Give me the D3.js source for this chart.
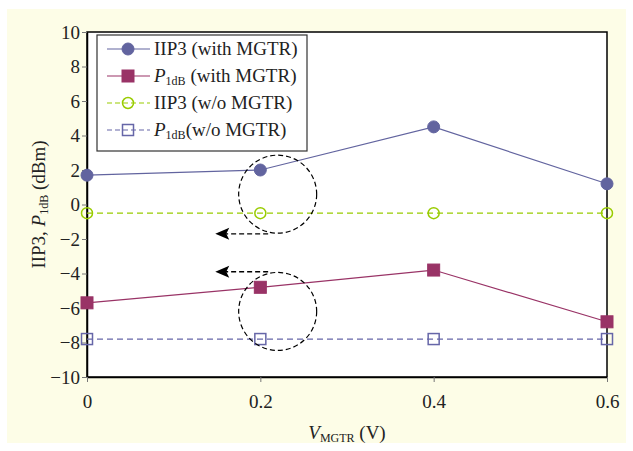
<!DOCTYPE html>
<html>
<head>
<meta charset="utf-8">
<script src="https://cdn.jsdelivr.net/npm/d3@7"></script>
<style>
body { margin: 0; background: #fff; }
text { font-family: "Liberation Serif", "Times New Roman", serif; }
</style>
</head>
<body>
<script>
const vgtr = [0, 0.2, 0.4, 0.6];
const iip3With = [1.7, 2.0, 4.5, 1.2];
const p1dbWith = [-5.7, -4.8, -3.8, -6.8];
const iip3Without = [-0.5, -0.5, -0.5, -0.5];
const p1dbWithout = [-7.8, -7.8, -7.8, -7.8];
const xTicks = [0, 0.2, 0.4, 0.6];
const yTicks = [-10, -8, -6, -4, -2, 0, 2, 4, 6, 8, 10];

const w = 633, h = 451;
const m = {left: 87, right: 26, top: 32, bottom: 74};
const fs = 19;

const svg = d3.select('body').append('svg')
  .attr('width', w).attr('height', h);

svg.append('rect').attr('x', 7).attr('y', 9).attr('width', 619).attr('height', 434)
  .attr('fill', '#fdfde7');

const x = d3.scaleLinear().domain([0, 0.6]).range([m.left, w - m.right]);
const y = d3.scaleLinear().domain([-10, 10]).range([h - m.bottom, m.top]);

svg.append('rect')
  .attr('x', x(0)).attr('y', y(10))
  .attr('width', x(0.6) - x(0)).attr('height', y(-10) - y(10))
  .attr('fill', '#fff').attr('stroke', '#000').attr('stroke-width', 1.5);

const yAxis = d3.axisLeft(y).tickValues(yTicks).tickSize(5).tickSizeOuter(0)
  .tickFormat(d => d < 0 ? '\u2212' + Math.abs(d) : d);
const gy = svg.append('g').attr('transform', `translate(${x(0)},0)`).call(yAxis);
gy.attr('font-family', null);
gy.select('.domain').attr('stroke', '#000').attr('stroke-width', 1.5);
gy.selectAll('.tick line').attr('stroke', '#777');
gy.selectAll('.tick text').attr('font-size', fs).attr('fill', '#222').attr('x', -7);

const xAxis = d3.axisBottom(x).tickValues(xTicks).tickSize(5).tickSizeOuter(0)
  .tickFormat(d => d === 0 ? '0' : d3.format('.1f')(d));
const gx = svg.append('g').attr('transform', `translate(0,${y(-10)})`).call(xAxis);
gx.attr('font-family', null);
gx.select('.domain').attr('stroke', '#000').attr('stroke-width', 1.5);
gx.selectAll('.tick line').attr('stroke', '#777');
gx.selectAll('.tick text').attr('font-size', fs).attr('fill', '#222').attr('y', 18);

// axis titles
const xt = svg.append('text').attr('x', x(0.3)).attr('y', 439).attr('text-anchor', 'middle')
  .attr('font-size', fs).attr('fill', '#222');
xt.append('tspan').attr('font-style', 'italic').text('V');
xt.append('tspan').attr('font-size', 12).attr('dy', 3).text('MGTR');
xt.append('tspan').attr('dy', -3).text(' (V)');

const yt = svg.append('text').attr('transform', `translate(45,${y(0)}) rotate(-90)`)
  .attr('text-anchor', 'middle').attr('font-size', fs).attr('fill', '#222');
yt.append('tspan').text('IIP3, ');
yt.append('tspan').attr('font-style', 'italic').text('P');
yt.append('tspan').attr('font-size', 12).attr('dy', 3).text('1dB');
yt.append('tspan').attr('dy', -3).text(' (dBm)');

const series = [
  {vals: iip3With, color: '#62649f', dash: null, shape: 'circle', fill: true},
  {vals: p1dbWith, color: '#993366', dash: null, shape: 'square', fill: true},
  {vals: iip3Without, color: '#99cc00', dash: '6,4', shape: 'circle', fill: false},
  {vals: p1dbWithout, color: '#6666a8', dash: '6,4', shape: 'square', fill: false}
];

const line = d3.line().x((d, i) => x(vgtr[i])).y(d => y(d));

function marker(g, shape, fill, color, cx, cy) {
  if (shape === 'circle') {
    g.append('circle').attr('cx', cx).attr('cy', cy).attr('r', fill ? 6 : 5.5)
      .attr('fill', fill ? color : 'none').attr('stroke', color).attr('stroke-width', fill ? 1 : 1.5);
  } else {
    const s = fill ? 12 : 11;
    g.append('rect').attr('x', cx - s / 2).attr('y', cy - s / 2).attr('width', s).attr('height', s)
      .attr('fill', fill ? color : 'none').attr('stroke', color).attr('stroke-width', fill ? 1 : 1.5);
  }
}

series.forEach(s => {
  svg.append('path').datum(s.vals).attr('d', line).attr('fill', 'none')
    .attr('stroke', s.color).attr('stroke-width', 1.2)
    .attr('stroke-dasharray', s.dash);
  const g = svg.append('g');
  s.vals.forEach((v, i) => marker(g, s.shape, s.fill, s.color, x(vgtr[i]), y(v)));
});

// annotations: dashed circles and arrows
[[0.22, 0.6], [0.22, -6.2]].forEach(c => {
  svg.append('ellipse').attr('cx', x(c[0])).attr('cy', y(c[1]))
    .attr('rx', 39).attr('ry', 39).attr('fill', 'none')
    .attr('stroke', '#000').attr('stroke-width', 1.2).attr('stroke-dasharray', '5,3');
});
[[0.209, 0.148, -1.7], [0.209, 0.148, -3.9]].forEach(a => {
  const tx = x(a[1]), ay = y(a[2]);
  svg.append('line').attr('x1', x(a[0])).attr('x2', tx + 10).attr('y1', ay).attr('y2', ay)
    .attr('stroke', '#000').attr('stroke-width', 1.4).attr('stroke-dasharray', '5,3');
  svg.append('path')
    .attr('d', `M${tx},${ay} L${tx + 14},${ay - 6} L${tx + 11},${ay} L${tx + 14},${ay + 6} Z`)
    .attr('fill', '#000');
});

// legend
const lg = svg.append('g');
lg.append('rect').attr('x', 97).attr('y', 35).attr('width', 210).attr('height', 116)
  .attr('fill', '#fff').attr('stroke', '#333').attr('stroke-width', 1.2);
const labels = [
  [{t: 'IIP3 (with MGTR)'}],
  [{t: 'P', i: true}, {t: '1dB', sub: true}, {t: ' (with MGTR)'}],
  [{t: 'IIP3 (w/o MGTR)'}],
  [{t: 'P', i: true}, {t: '1dB', sub: true}, {t: '(w/o MGTR)'}]
];
series.forEach((s, k) => {
  const ly = 49 + k * 27;
  lg.append('line').attr('x1', 107).attr('x2', 150).attr('y1', ly).attr('y2', ly)
    .attr('stroke', s.color).attr('stroke-width', 1.2).attr('stroke-dasharray', s.dash ? '5,3' : null);
  marker(lg, s.shape, s.fill, s.color, 128, ly);
  const t = lg.append('text').attr('x', 154).attr('y', ly + 6).attr('font-size', fs).attr('fill', '#222');
  labels[k].forEach(p => {
    const ts = t.append('tspan').text(p.t);
    if (p.i) ts.attr('font-style', 'italic');
    if (p.sub) ts.attr('font-size', 12).attr('dy', 3);
    else if (k % 2 === 1 && !p.i) ts.attr('dy', -3);
  });
});
</script>
</body>
</html>
